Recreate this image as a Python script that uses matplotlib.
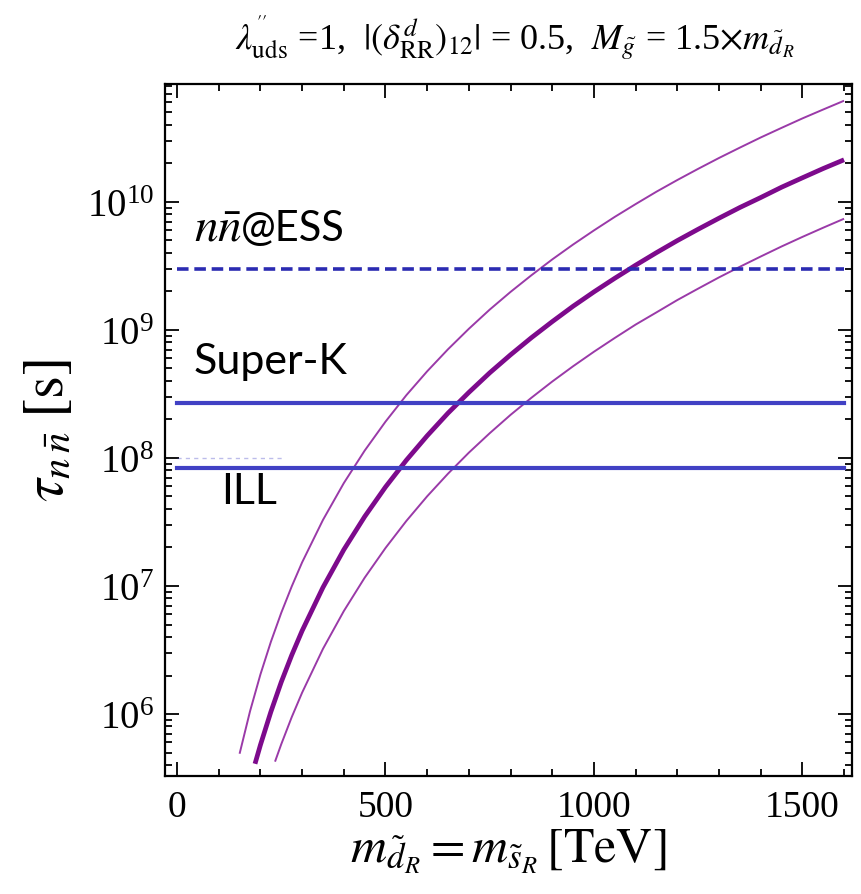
import matplotlib
matplotlib.use("Agg")
import matplotlib.pyplot as plt
from matplotlib.ticker import LogLocator, MultipleLocator, NullFormatter

plt.rcParams['font.family'] = ['Liberation Serif', 'DejaVu Serif']
plt.rcParams['mathtext.fontset'] = 'stix'

# --- data ---
m_upper = [150, 175, 200, 225, 250, 275, 300, 350, 400, 450, 500, 550, 600, 650,
           700, 750, 800, 850, 900, 950, 1000, 1050, 1100, 1150, 1200, 1250,
           1300, 1350, 1400, 1450, 1500, 1550, 1600]
tau_upper = [4.9e5, 1.05e6, 2.04e6, 3.66e6, 6.18e6, 9.91e6, 1.53e7, 3.28e7,
             6.36e7, 1.14e8, 1.92e8, 3.09e8, 4.75e8, 7.06e8, 1.02e9, 1.44e9,
             1.98e9, 2.67e9, 3.55e9, 4.64e9, 5.98e9, 7.63e9, 9.6e9, 1.20e10,
             1.48e10, 1.81e10, 2.20e10, 2.65e10, 3.18e10, 3.78e10, 4.48e10,
             5.26e10, 6.16e10]

m_center = [187, 200, 225, 250, 275, 300, 350, 400, 450, 500, 550, 600, 650,
            700, 750, 800, 850, 900, 950, 1000, 1050, 1100, 1150, 1200, 1250,
            1300, 1350, 1400, 1450, 1500, 1550, 1600]
tau_center = [4.09e5, 5.74e5, 1.04e6, 1.78e6, 2.88e6, 4.47e6, 9.75e6, 1.92e7,
              3.48e7, 5.93e7, 9.6e7, 1.49e8, 2.24e8, 3.25e8, 4.62e8, 6.39e8,
              8.69e8, 1.16e9, 1.53e9, 1.98e9, 2.53e9, 3.20e9, 4.01e9, 4.98e9,
              6.11e9, 7.45e9, 9.03e9, 1.08e10, 1.30e10, 1.54e10, 1.82e10,
              2.13e10]

m_lower = [235, 250, 275, 300, 350, 400, 450, 500, 550, 600, 650, 700, 750,
           800, 850, 900, 950, 1000, 1050, 1100, 1150, 1200, 1250, 1300, 1350,
           1400, 1450, 1500, 1550, 1600]
tau_lower = [4.25e5, 5.82e5, 9.45e5, 1.47e6, 3.23e6, 6.37e6, 1.16e7, 1.98e7,
             3.22e7, 5.02e7, 7.54e7, 1.10e8, 1.56e8, 2.17e8, 2.95e8, 3.95e8,
             5.20e8, 6.75e8, 8.65e8, 1.10e9, 1.37e9, 1.71e9, 2.10e9, 2.57e9,
             3.11e9, 3.74e9, 4.48e9, 5.32e9, 6.28e9, 7.38e9]

limit_names = ["ESS", "Super-K", "ILL"]
limit_values = [3.0e9, 2.7e8, 8.4e7]
limit_range = [0, 1600]

xticks = [0, 500, 1000, 1500]

fig = plt.figure(figsize=(8.61, 8.95), dpi=100)
ax = fig.add_axes([0.1916, 0.1318, 0.7979, 0.7732])

ax.set_yscale('log')
ax.set_xlim(-29, 1619)
ax.set_ylim(10**5.516, 10**10.92)

purple_thin = '#9a3aa8'
purple_thick = '#7d0a8c'
blue = '#4141c4'
navy = '#2b2bb2'

ax.plot(m_upper, tau_upper, color=purple_thin, lw=1.4, solid_capstyle='butt')
ax.plot(m_center, tau_center, color=purple_thick, lw=3.4, solid_capstyle='butt')
ax.plot(m_lower, tau_lower, color=purple_thin, lw=1.4, solid_capstyle='butt')

ax.plot(limit_range, [limit_values[0]] * 2, color=navy, lw=2.6, ls=(0, (3.2, 1.6)))
ax.plot(limit_range, [limit_values[1]] * 2, color=blue, lw=3.0)
ax.plot(limit_range, [limit_values[2]] * 2, color=blue, lw=3.0)
# faint remnant dashes above the ILL line
ax.plot([0, 260], [limit_values[2] * 1.2] * 2, color=blue, lw=1.0,
        ls=(0, (3, 3)), alpha=0.35)

ax.set_xticks(xticks)
ax.xaxis.set_minor_locator(MultipleLocator(100))
ax.yaxis.set_major_locator(LogLocator(base=10, numticks=20))
ax.yaxis.set_minor_locator(LogLocator(base=10, subs=range(2, 10), numticks=100))
ax.yaxis.set_minor_formatter(NullFormatter())

ax.tick_params(which='both', direction='in', top=True, right=True,
               width=1.3, colors='black')
ax.tick_params(axis='x', labelsize=27)
ax.tick_params(axis='y', labelsize=28)
ax.tick_params(which='major', length=10)
ax.tick_params(which='minor', length=5)
ax.tick_params(axis='x', pad=10)
ax.tick_params(axis='y', pad=8)
for s in ax.spines.values():
    s.set_linewidth(1.6)

ax.set_xlabel(r'$m_{\tilde{d}_R} = m_{\tilde{s}_R}\,[\mathrm{TeV}]$', fontsize=36,
              labelpad=2)
ax.set_ylabel(r'$\tau_{n\,\bar{n}}\;[\mathrm{s}]$', fontsize=42, labelpad=8)

fig.text(0.598, 0.958,
         r"$\lambda^{''}_{\mathrm{uds}}$ =1,  $|(\delta^{d}_{\mathrm{RR}})_{12}|$ = 0.5,  "
         r"$M_{\tilde{g}}$ = 1.5$\times$$m_{\tilde{d}_R}$",
         ha='center', va='center', fontsize=26)

ax.text(40, 10**9.70, r'$n\bar{n}$', fontsize=34, ha='left', va='baseline')
ax.text(152, 10**9.70, '@ESS', fontsize=30, ha='left', va='baseline',
        family=['Lato', 'DejaVu Sans'])
ax.text(40, 10**8.76, 'Super-K', fontsize=31, ha='left', va='center',
        family=['Lato', 'DejaVu Sans'])
ax.text(105, 10**7.74, 'ILL', fontsize=31, ha='left', va='center',
        family=['Lato', 'DejaVu Sans'])

fig.savefig('out.png', dpi=100)
